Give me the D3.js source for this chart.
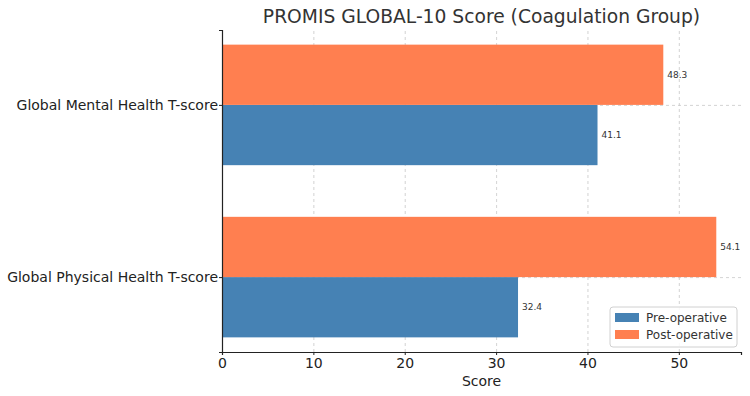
<!DOCTYPE html>
<html>
<head>
<meta charset="utf-8">
<script src="https://d3js.org/d3.v7.min.js"></script>
<style>
  body { margin: 0; background: #fff; }
  svg text { font-family: "DejaVu Sans", sans-serif; }
  .grid line { stroke: #c8c8c8; stroke-dasharray: 3,3; stroke-width: 0.8; }
  .grid path { display: none; }
</style>
</head>
<body>
<svg width="750" height="396"></svg>
<script>
// data
var categories = ["Global Physical Health T-score", "Global Mental Health T-score"];
var preOp = [32.4, 41.1];
var postOp = [54.1, 48.3];
var seriesNames = ["Pre-operative", "Post-operative"];
var colors = ["#4682b4", "#ff7f50"];
var xTicks = [0, 10, 20, 30, 40, 50];

var svg = d3.select("svg"),
    margin = { top: 30, right: 9, bottom: 44, left: 222 },
    width = +svg.attr("width") - margin.left - margin.right,
    height = +svg.attr("height") - margin.top - margin.bottom,
    g = svg.append("g").attr("transform", "translate(" + margin.left + "," + margin.top + ")");

var barH = 0.35;
var xMax = d3.max(preOp.concat(postOp)) * 1.05;

var x = d3.scaleLinear().domain([0, xMax]).range([0, width]);
// numeric y: category i at i, bars from -barH to 1+barH, 5% margins
var yLo = -barH - 0.085, yHi = (categories.length - 1) + barH + 0.085;
var y = d3.scaleLinear().domain([yLo, yHi]).range([height, 0]);

// grid
g.append("g").attr("class", "grid")
  .attr("transform", "translate(0," + height + ")")
  .call(d3.axisBottom(x).tickValues(xTicks).tickSize(-height).tickFormat(""));
g.append("g").attr("class", "grid")
  .call(d3.axisLeft(y).tickValues(d3.range(categories.length)).tickSize(-width).tickFormat(""));

// bars
var rows = categories.map(function (c, i) { return { i: i, pre: preOp[i], post: postOp[i] }; });

g.selectAll(".pre").data(rows).enter().append("rect")
  .attr("class", "pre")
  .attr("x", x(0))
  .attr("y", function (d) { return y(d.i); })
  .attr("width", function (d) { return x(d.pre) - x(0); })
  .attr("height", y(0) - y(barH))
  .attr("fill", colors[0]);

g.selectAll(".post").data(rows).enter().append("rect")
  .attr("class", "post")
  .attr("x", x(0))
  .attr("y", function (d) { return y(d.i + barH); })
  .attr("width", function (d) { return x(d.post) - x(0); })
  .attr("height", y(0) - y(barH))
  .attr("fill", colors[1]);

// value labels
g.selectAll(".lblpre").data(rows).enter().append("text")
  .attr("x", function (d) { return x(d.pre) + 4; })
  .attr("y", function (d) { return y(d.i - barH / 2); })
  .attr("dy", "0.35em")
  .attr("font-size", 9)
  .attr("fill", "#333")
  .text(function (d) { return d.pre.toFixed(1); });

g.selectAll(".lblpost").data(rows).enter().append("text")
  .attr("x", function (d) { return x(d.post) + 4; })
  .attr("y", function (d) { return y(d.i + barH / 2); })
  .attr("dy", "0.35em")
  .attr("font-size", 9)
  .attr("fill", "#333")
  .text(function (d) { return d.post.toFixed(1); });

// axes
var xAxis = g.append("g")
  .attr("transform", "translate(0," + height + ")")
  .call(d3.axisBottom(x).tickValues(xTicks).tickSize(3).tickPadding(3));
xAxis.selectAll("text").attr("font-size", 14).attr("fill", "#222").style("font-family", "DejaVu Sans");
xAxis.select(".domain").attr("stroke", "#222").attr("stroke-width", 1.2);
xAxis.selectAll(".tick line").attr("stroke", "#222");

var yAxis = g.append("g")
  .call(d3.axisLeft(y).tickValues(d3.range(categories.length))
    .tickFormat(function (i) { return categories[i]; }).tickSize(3).tickPadding(1));
yAxis.selectAll("text").attr("font-size", 14).attr("fill", "#222").style("font-family", "DejaVu Sans");
yAxis.select(".domain").attr("stroke", "#222").attr("stroke-width", 1.2);
yAxis.selectAll(".tick line").attr("stroke", "#222");

// axis label
svg.append("text")
  .attr("x", margin.left + width / 2)
  .attr("y", 386)
  .attr("text-anchor", "middle")
  .attr("font-size", 14)
  .attr("fill", "#222")
  .text("Score");

// title
svg.append("text")
  .attr("x", margin.left + width / 2)
  .attr("y", 23)
  .attr("text-anchor", "middle")
  .attr("font-size", 18.7)
  .attr("fill", "#333")
  .text("PROMIS GLOBAL-10 Score (Coagulation Group)");

// legend
var lg = g.append("g").attr("transform", "translate(" + (width - 131) + "," + (height - 45) + ")");
lg.append("rect")
  .attr("width", 127).attr("height", 40).attr("rx", 3)
  .attr("fill", "#fff").attr("fill-opacity", 0.85)
  .attr("stroke", "#d0d0d0");
seriesNames.forEach(function (s, i) {
  lg.append("rect").attr("x", 5).attr("y", 6 + i * 17).attr("width", 24).attr("height", 9).attr("fill", colors[i]);
  lg.append("text").attr("x", 36).attr("y", 11 + i * 17).attr("dy", "0.35em")
    .attr("font-size", 12).attr("fill", "#333").text(s);
});
</script>
</body>
</html>
